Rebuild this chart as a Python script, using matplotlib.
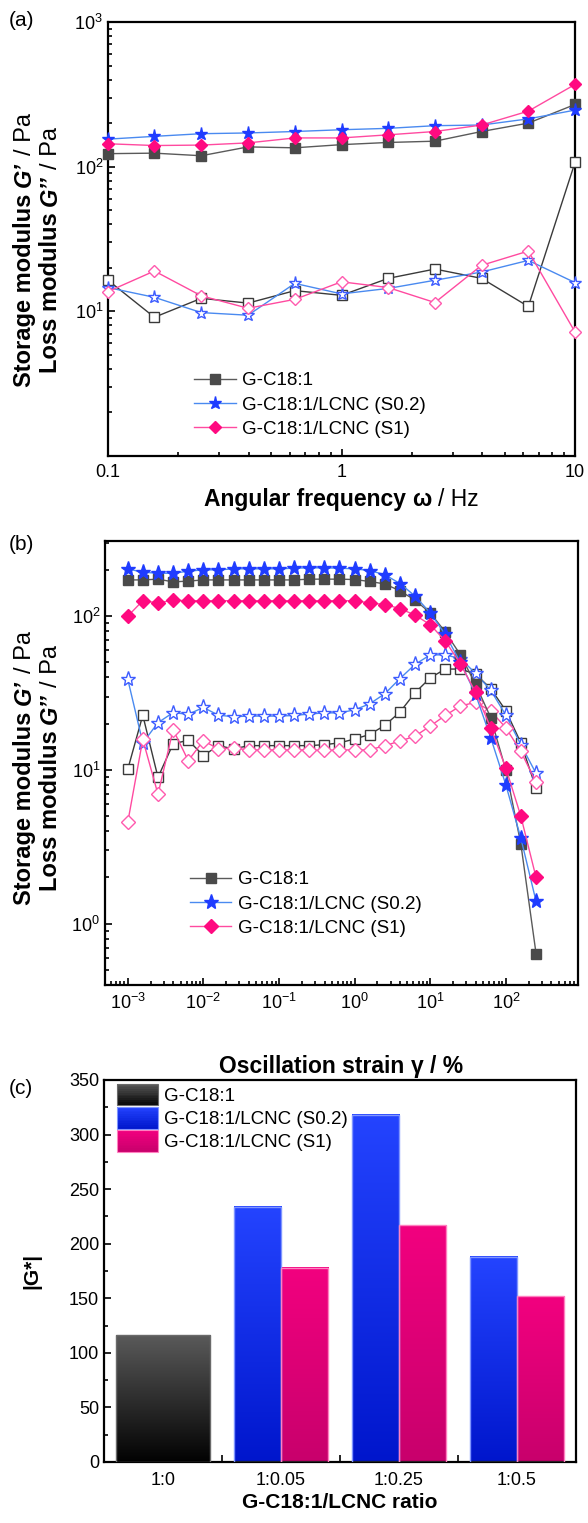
import numpy as np
import matplotlib
matplotlib.use('Agg')
import matplotlib.pyplot as plt
from matplotlib.lines import Line2D
from matplotlib.patches import Rectangle
from matplotlib.legend_handler import HandlerBase
from matplotlib.colors import LinearSegmentedColormap, to_rgb
from matplotlib.ticker import (LogLocator, NullFormatter, MultipleLocator,
                               LogFormatterMathtext, FuncFormatter, FixedLocator)

plt.rcParams['font.family'] = ['Liberation Sans', 'DejaVu Sans']
plt.rcParams['mathtext.fontset'] = 'custom'
plt.rcParams['mathtext.rm'] = 'Liberation Sans'
plt.rcParams['mathtext.it'] = 'Liberation Sans:italic'
plt.rcParams['mathtext.bf'] = 'Liberation Sans:bold'

# ---------------- data ----------------
series_names = ['G-C18:1', 'G-C18:1/LCNC (S0.2)', 'G-C18:1/LCNC (S1)']

# (a) frequency sweep
freq_a = [0.1, 0.158, 0.251, 0.398, 0.631, 1.0, 1.585, 2.512, 3.981, 6.31, 10.0]
black_Gp_a = [123, 124, 119, 137, 135, 142, 147, 150, 175, 200, 269]
blue_Gp_a = [155, 162, 169, 171, 175, 180, 184, 192, 194, 214, 246]
pink_Gp_a = [144, 140, 141, 146, 158, 158, 166, 175, 194, 242, 370]
black_Gpp_a = [16.4, 9.1, 12.3, 11.4, 13.9, 12.9, 16.9, 19.6, 16.9, 10.8, 107]
blue_Gpp_a = [14.6, 12.5, 9.8, 9.4, 15.6, 13.2, 14.4, 16.4, 18.7, 22.5, 15.8]
pink_Gpp_a = [13.7, 19.0, 12.8, 10.5, 12.1, 16.0, 14.6, 11.5, 20.8, 26.1, 7.2]

# (b) strain sweep
strain_b = [0.001, 0.00158, 0.00251, 0.00398, 0.00631, 0.01, 0.0158, 0.0251,
            0.0398, 0.0631, 0.1, 0.158, 0.251, 0.398, 0.631, 1.0, 1.58, 2.51,
            3.98, 6.31, 10.0, 15.8, 25.1, 39.8, 63.1, 100.0, 158.0, 251.0]
black_Gp_b = [172, 172, 174, 167, 169, 172, 172, 172, 172, 172, 172, 172, 174, 174,
              174, 173, 168, 162, 146, 127, 105, 79, 56, 36, 21.9, 10.0, 3.3, 0.64]
blue_Gp_b = [203, 193, 190, 190, 196, 200, 200, 203, 203, 203, 203, 205, 206, 206,
             205, 203, 198, 186, 163, 135, 105, 76, 50, 31, 16.2, 8.0, 3.6, 1.4]
pink_Gp_b = [100, 126, 122, 127, 126, 126, 126, 126, 126, 126, 126, 126, 126, 126,
             126, 126, 122, 119, 112, 101.5, 88, 69, 49, 32, 18.8, 10.3, 5.0, 2.0]
black_Gpp_b = [10.1, 22.7, 8.95, 14.8, 15.6, 12.4, 14.4, 13.7, 14.4, 14.4, 14.4, 14.4,
               14.4, 14.6, 15.0, 15.9, 17.0, 19.5, 23.8, 31.8, 39.7, 45.3, 45.3, 42,
               33.8, 24.3, 15.0, 7.6]
blue_Gpp_b = [38.9, 15.0, 20.3, 23.6, 23.0, 25.5, 22.7, 22.2, 22.4, 22.4, 22.4, 22.6,
              23.1, 23.5, 23.5, 24.6, 26.9, 31.3, 39.3, 48.6, 56, 56, 53, 42.4, 33,
              22.7, 14.6, 9.5]
pink_Gpp_b = [4.57, 15.8, 6.95, 18.3, 11.5, 15.5, 13.7, 13.9, 13.5, 13.5, 13.5, 13.5,
              13.5, 13.4, 13.5, 13.5, 13.5, 14.4, 15.4, 16.6, 19.3, 22.6, 26.1, 27.5,
              24.2, 18.8, 13.2, 8.3]

# (c) complex modulus
ratio_labels = ['1:0', '1:0.05', '1:0.25', '1:0.5']
black_G_c = [116]
blue_G_c = [234, 318, 188]
pink_G_c = [178, 217, 152]

# ---------------- styles ----------------
BLK_M, BLK_L, BLK_O = '#4a4a4a', '#5a5a5a', '#3a3a3a'
BLU_M, BLU_L, BLU_O = '#1f3cff', '#4a8af0', '#3d5cff'
PNK_M, PNK_L, PNK_O = '#ff0a80', '#ff4aa0', '#ff5aae'
TICK_FS = 13
LEG_FS = 13.5
LAB_FS = 17

W, H = 588, 1523
fig = plt.figure(figsize=(W / 100, H / 100), dpi=100)


def ax_px(l, t, r, b):
    return fig.add_axes([l / W, 1 - b / H, (r - l) / W, (b - t) / H])


axA = ax_px(108, 22, 575, 456)
axB = ax_px(105, 541, 578, 985)
axC = ax_px(104, 1080, 576, 1462)

for ax in (axA, axB, axC):
    for sp in ax.spines.values():
        sp.set_linewidth(1.6)
    ax.tick_params(which='both', direction='in', top=False, right=False,
                   labelsize=TICK_FS, width=1.2)
    ax.tick_params(which='major', length=5)
    ax.tick_params(which='minor', length=3)


def plot_sweep(ax, x, gp_list, gpp_list, sizes):
    specs = [('s', BLK_M, BLK_L, BLK_O), ('*', BLU_M, BLU_L, BLU_O),
             ('D', PNK_M, PNK_L, PNK_O)]
    for (mk, mc, lc, oc), gpp, ms in zip(specs, gpp_list, sizes):
        ax.plot(x, gpp, marker=mk, ms=ms, mfc='white', mec=oc, mew=1.0,
                color=oc if mk == 's' else lc, lw=1.0, clip_on=False, zorder=3)
    for (mk, mc, lc, oc), gp, ms in zip(specs, gp_list, sizes):
        ax.plot(x, gp, marker=mk, ms=ms, mfc=mc, mec=mc, mew=1.0,
                color=lc, lw=1.0, clip_on=False, zorder=4)
    handles = [Line2D([0], [0], marker=mk, ms=ms, mfc=mc, mec=mc, color=lc, lw=1.0)
               for (mk, mc, lc, oc), ms in zip(specs, sizes)]
    return handles


# ---------------- (a) ----------------
hA = plot_sweep(axA, freq_a, [black_Gp_a, blue_Gp_a, pink_Gp_a],
                [black_Gpp_a, blue_Gpp_a, pink_Gpp_a], [6.5, 9.5, 6.5])
axA.set_xscale('log')
axA.set_yscale('log')
axA.set_xlim(0.1, 10)
axA.set_ylim(1, 1000)
axA.set_yticks([10, 100, 1000])
axA.yaxis.set_major_formatter(LogFormatterMathtext())
axA.yaxis.set_minor_locator(LogLocator(base=10, subs=np.arange(2, 10), numticks=100))
axA.yaxis.set_minor_formatter(NullFormatter())
axA.set_xticks([0.1, 1, 10])
axA.xaxis.set_major_formatter(FuncFormatter(lambda v, _: f'{v:g}'))
axA.xaxis.set_minor_locator(LogLocator(base=10, subs=np.arange(2, 10), numticks=100))
axA.xaxis.set_minor_formatter(NullFormatter())
axA.tick_params(axis='x', which='major', pad=6)
axA.legend(hA, series_names, loc='upper left', bbox_to_anchor=(0.185, 0.193),
           frameon=False, fontsize=LEG_FS, borderpad=0, borderaxespad=0,
           handlelength=2.2, handletextpad=0.35, labelspacing=0.38)

# ---------------- (b) ----------------
hB = plot_sweep(axB, strain_b, [black_Gp_b, blue_Gp_b, pink_Gp_b],
                [black_Gpp_b, blue_Gpp_b, pink_Gpp_b], [7.5, 11, 7.5])
axB.set_xscale('log')
axB.set_yscale('log')
axB.set_xlim(5e-4, 900)
axB.set_ylim(0.4, 308)
axB.set_yticks([1, 10, 100])
axB.yaxis.set_major_formatter(LogFormatterMathtext())
axB.yaxis.set_minor_locator(LogLocator(base=10, subs=np.arange(2, 10), numticks=100))
axB.yaxis.set_minor_formatter(NullFormatter())
axB.set_xticks([1e-3, 1e-2, 1e-1, 1, 10, 100])
axB.xaxis.set_major_formatter(LogFormatterMathtext())
axB.xaxis.set_minor_locator(LogLocator(base=10, subs=np.arange(2, 10), numticks=100))
axB.xaxis.set_minor_formatter(NullFormatter())
axB.tick_params(axis='x', which='major', pad=6)
axB.legend(hB, series_names, loc='upper left', bbox_to_anchor=(0.18, 0.256),
           frameon=False, fontsize=LEG_FS, borderpad=0, borderaxespad=0,
           handlelength=2.2, handletextpad=0.35, labelspacing=0.38)

# ---------------- (c) ----------------
grad_cols = {'black': ('#5a5a5a', '#020202', '#6a6a6a'),
             'blue': ('#2444ff', '#0016cc', '#7f95ff'),
             'pink': ('#f2007f', '#c8006c', '#ff80c0')}


def gradient_bars(ax, xs, vals, width, key):
    top, bot, edge = grad_cols[key]
    cmap = LinearSegmentedColormap.from_list(key, [bot, top])
    bars = ax.bar(xs, vals, width=width, facecolor='none', edgecolor=edge,
                  linewidth=1.0, zorder=3)
    g = np.linspace(0, 1, 256).reshape(-1, 1)
    for b in bars:
        x0, y0 = b.get_xy()
        ax.imshow(g, extent=[x0, x0 + b.get_width(), y0, y0 + b.get_height()],
                  origin='lower', aspect='auto', cmap=cmap, zorder=2,
                  interpolation='bilinear')
    return bars


gradient_bars(axC, [0], black_G_c, 0.8, 'black')
gradient_bars(axC, [i - 0.2 for i in range(1, 4)], blue_G_c, 0.4, 'blue')
gradient_bars(axC, [i + 0.2 for i in range(1, 4)], pink_G_c, 0.4, 'pink')
axC.set_xlim(-0.5, 3.5)
axC.set_ylim(0, 350)
axC.set_aspect('auto')
axC.set_xticks(range(4))
axC.set_xticklabels(ratio_labels)
axC.tick_params(axis='x', which='major', length=0, pad=7)
axC.xaxis.set_minor_locator(FixedLocator([0.5, 1.5, 2.5]))
axC.tick_params(axis='x', which='minor', length=5)
axC.yaxis.set_major_locator(MultipleLocator(50))
axC.yaxis.set_minor_locator(MultipleLocator(25))
axC.set_ylabel('|G*|', fontsize=15, fontweight='bold', labelpad=20)
axC.set_xlabel('G-C18:1/LCNC ratio', fontsize=15, fontweight='bold', labelpad=3)


class GradHandler(HandlerBase):
    def create_artists(self, legend, orig_handle, xdescent, ydescent, width,
                       height, fontsize, trans):
        top, bot, edge = grad_cols[orig_handle]
        c0, c1 = np.array(to_rgb(bot)), np.array(to_rgb(top))
        n = 12
        arts = []
        h = height / n
        for i in range(n):
            f = (i + 0.5) / n
            arts.append(Rectangle((-xdescent, -ydescent + i * h), width, h * 1.02,
                                  facecolor=c0 + (c1 - c0) * f, edgecolor='none',
                                  transform=trans))
        arts.append(Rectangle((-xdescent, -ydescent), width, height, facecolor='none',
                              edgecolor=edge, lw=0.8, transform=trans))
        return arts


axC.legend(['black', 'blue', 'pink'], series_names, loc='upper left',
           bbox_to_anchor=(0.027, 0.99), frameon=False, fontsize=LEG_FS,
           handler_map={str: GradHandler()}, handlelength=2.2, handleheight=1.4,
           labelspacing=0.08, handletextpad=0.3, borderpad=0, borderaxespad=0)

# ---------------- rich labels ----------------
renderer = fig.canvas.get_renderer()


def rich(cx, cy, pieces, size, rotation=0):
    """cx, cy: pixel coords from top-left; rotation 90 -> cx is baseline x,
    cy is centre; rotation 0 -> cx is centre, cy is baseline y."""
    widths = []
    for s, w, st in pieces:
        t = fig.text(0, 0, s, fontsize=size, fontweight=w, fontstyle=st)
        widths.append(t.get_window_extent(renderer).width)
        t.remove()
    gap = size * 100 / 72 * 0.278
    total = sum(widths) + gap * (len(pieces) - 1)
    pos = -total / 2
    for (s, w, st), wd in zip(pieces, widths):
        if rotation == 90:
            xd, yd = cx, (H - cy) + pos
        else:
            xd, yd = cx + pos, H - cy
        fig.text(xd / W, yd / H, s, fontsize=size, fontweight=w, fontstyle=st,
                 rotation=rotation, rotation_mode='anchor', ha='left',
                 va='baseline')
        pos += wd + gap


def ylabel_pair(cy):
    rich(31, cy, [('Storage modulus', 'bold', 'normal'), ('G’', 'bold', 'italic'),
                  ('/ Pa', 'normal', 'normal')], LAB_FS, rotation=90)
    rich(57, cy, [('Loss modulus', 'bold', 'normal'), ('G’’', 'bold', 'italic'),
                  ('/ Pa', 'normal', 'normal')], LAB_FS, rotation=90)


ylabel_pair(250)
ylabel_pair(768)
rich(341, 506, [('Angular frequency', 'bold', 'normal'), ('ω', 'bold', 'normal'),
                ('/ Hz', 'normal', 'normal')], 16.5)
rich(341, 1073, [('Oscillation strain', 'bold', 'normal'), ('γ', 'bold', 'normal'),
                 ('/ %', 'bold', 'normal')], 16.5)

for lab, y in (('(a)', 20), ('(b)', 545), ('(c)', 1088)):
    fig.text(9 / W, 1 - y / H, lab, fontsize=15, va='center', ha='left')

fig.savefig('out.png', dpi=100)
